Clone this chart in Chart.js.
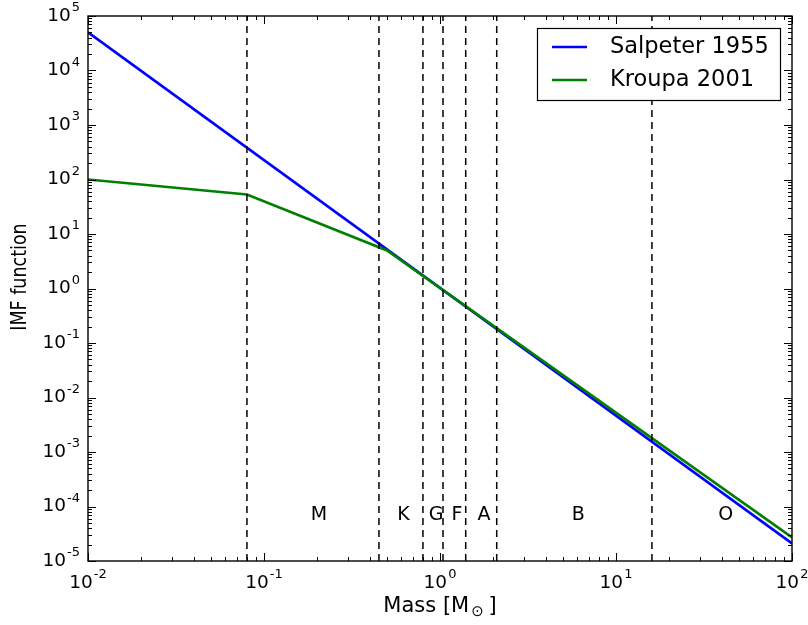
<!DOCTYPE html>
<html><head><meta charset="utf-8">
<script src="https://cdn.jsdelivr.net/npm/chart.js@4/dist/chart.umd.min.js"></script>
<style>html,body{margin:0;padding:0;background:#fff}canvas{display:block}</style>
</head><body>
<canvas id="c" width="808" height="625"></canvas>
<script>
// ---- data ----
const salpeterMass = [0.01, 100];
const salpeterIMF  = [5.0e4, 2.1e-5];
const kroupaMass   = [0.01, 0.08, 0.5, 100];
const kroupaIMF    = [100, 53, 5.0, 2.7e-5];
const classBoundaries = [0.08, 0.45, 0.8, 1.04, 1.4, 2.1, 16];
const classNames      = ['M', 'K', 'G', 'F', 'A', 'B', 'O'];
const classLabelMass  = [0.205, 0.62, 0.95, 1.25, 1.78, 6.1, 42];
const classLabelIMF   = 7e-5;
const xTickExps = [-2, -1, 0, 1, 2];
const yTickExps = [-5, -4, -3, -2, -1, 0, 1, 2, 3, 4, 5];
const seriesLabels = ['Salpeter 1955', 'Kroupa 2001'];
const xTitle = 'Mass [M';
const xTitleSub = '\u2299';
const yTitle = 'IMF function';

const FONT = '"DejaVu Sans", sans-serif';
const toPts = (xs, ys) => xs.map((x, i) => ({x: x, y: ys[i]}));

const datasets = [];
classBoundaries.forEach(b => datasets.push({
  data: [{x: b, y: 1e-5}, {x: b, y: 1e5}],
  borderColor: '#000', borderWidth: 1.5, borderDash: [7, 5],
  pointRadius: 0, order: 0, isGuide: true
}));
datasets.push({label: seriesLabels[1], data: toPts(kroupaMass, kroupaIMF),
  borderColor: '#008000', borderWidth: 2.7, pointRadius: 0, order: 1});
datasets.push({label: seriesLabels[0], data: toPts(salpeterMass, salpeterIMF),
  borderColor: '#0000ff', borderWidth: 2.7, pointRadius: 0, order: 2});

function drawPow(ctx, base, exp, x, y, align, size) {
  ctx.font = size + 'px ' + FONT;
  const bw = ctx.measureText(base).width;
  const ss = Math.round(size * 0.72);
  ctx.font = ss + 'px ' + FONT;
  const ew = ctx.measureText(exp).width;
  const total = bw + ew + 1;
  let x0 = align === 'center' ? x - total / 2 : (align === 'right' ? x - total : x);
  ctx.textAlign = 'left';
  ctx.textBaseline = 'middle';
  ctx.font = size + 'px ' + FONT;
  ctx.fillText(base, x0, y);
  ctx.font = ss + 'px ' + FONT;
  ctx.fillText(exp, x0 + bw + 1, y - size * 0.45);
}

const decor = {
  id: 'decor',
  afterDatasetsDraw(chart) {
    const ctx = chart.ctx, a = chart.chartArea;
    const xs = chart.scales.x, ys = chart.scales.y;
    ctx.save();
    // class labels
    ctx.fillStyle = '#000';
    ctx.font = '19px ' + FONT;
    ctx.textAlign = 'center'; ctx.textBaseline = 'middle';
    classNames.forEach((n, i) => ctx.fillText(n, xs.getPixelForValue(classLabelMass[i]), ys.getPixelForValue(classLabelIMF)));
    // frame
    ctx.strokeStyle = '#000'; ctx.lineWidth = 1.4;
    ctx.strokeRect(a.left, a.top, a.right - a.left, a.bottom - a.top);
    // ticks
    ctx.lineWidth = 1;
    ctx.beginPath();
    const MAJ = 8, MIN = 4;
    xTickExps.forEach((e, k) => {
      const px = Math.round(xs.getPixelForValue(Math.pow(10, e))) + 0.5;
      ctx.moveTo(px, a.bottom); ctx.lineTo(px, a.bottom - MAJ);
      ctx.moveTo(px, a.top); ctx.lineTo(px, a.top + MAJ);
      if (k < xTickExps.length - 1) for (let m = 2; m <= 9; m++) {
        const p = Math.round(xs.getPixelForValue(m * Math.pow(10, e))) + 0.5;
        ctx.moveTo(p, a.bottom); ctx.lineTo(p, a.bottom - MIN);
        ctx.moveTo(p, a.top); ctx.lineTo(p, a.top + MIN);
      }
    });
    yTickExps.forEach((e, k) => {
      const py = Math.round(ys.getPixelForValue(Math.pow(10, e))) + 0.5;
      ctx.moveTo(a.left, py); ctx.lineTo(a.left + MAJ, py);
      ctx.moveTo(a.right, py); ctx.lineTo(a.right - MAJ, py);
      if (k < yTickExps.length - 1) for (let m = 2; m <= 9; m++) {
        const p = Math.round(ys.getPixelForValue(m * Math.pow(10, e))) + 0.5;
        ctx.moveTo(a.left, p); ctx.lineTo(a.left + MIN, p);
        ctx.moveTo(a.right, p); ctx.lineTo(a.right - MIN, p);
      }
    });
    ctx.stroke();
    // tick labels
    ctx.fillStyle = '#000';
    xTickExps.forEach(e => drawPow(ctx, '10', String(e), xs.getPixelForValue(Math.pow(10, e)), a.bottom + 22, 'center', 18.5));
    yTickExps.forEach(e => drawPow(ctx, '10', String(e), a.left - 8, ys.getPixelForValue(Math.pow(10, e)), 'right', 18.5));
    // axis titles
    const TS = 21, SS = 15;
    ctx.font = TS + 'px ' + FONT;
    const tw = ctx.measureText(xTitle).width;
    ctx.font = SS + 'px ' + FONT;
    const sw = ctx.measureText(xTitleSub).width;
    ctx.font = TS + 'px ' + FONT;
    const cw = ctx.measureText(' ]').width;
    const cx = (a.left + a.right) / 2;
    let x0 = cx - (tw + sw + cw) / 2;
    const ty = 607;
    ctx.textAlign = 'left'; ctx.textBaseline = 'middle';
    ctx.fillText(xTitle, x0, ty);
    ctx.font = SS + 'px ' + FONT;
    ctx.fillText(xTitleSub, x0 + tw + 2, ty + 5);
    ctx.font = TS + 'px ' + FONT;
    ctx.fillText(' ]', x0 + tw + sw, ty);
    ctx.save();
    ctx.translate(21, 277);
    ctx.rotate(-Math.PI / 2);
    ctx.scale(1, 1.2);
    ctx.textAlign = 'center'; ctx.textBaseline = 'middle';
    ctx.font = '17.5px ' + FONT;
    ctx.fillText(yTitle, 0, 0);
    ctx.restore();
    // legend
    const lx = 537, ly = 28, lw = 243, lh = 72;
    ctx.fillStyle = '#fff';
    ctx.fillRect(lx, ly, lw, lh);
    ctx.strokeStyle = '#000'; ctx.lineWidth = 1.2;
    ctx.strokeRect(lx + 0.5, ly + 0.5, lw, lh);
    const entries = chart.data.datasets.filter(d => !d.isGuide).sort((p, q) => seriesLabels.indexOf(p.label) - seriesLabels.indexOf(q.label));
    entries.forEach((d, i) => {
      const yy = ly + 19 + i * 33;
      ctx.strokeStyle = d.borderColor; ctx.lineWidth = 2.7;
      ctx.beginPath(); ctx.moveTo(552, yy); ctx.lineTo(587, yy); ctx.stroke();
      ctx.fillStyle = '#000';
      ctx.font = '22.5px ' + FONT;
      ctx.textAlign = 'left'; ctx.textBaseline = 'middle';
      ctx.fillText(d.label, 610, yy);
    });
    ctx.restore();
  }
};

new Chart(document.getElementById('c'), {
  type: 'line',
  data: {datasets: datasets},
  options: {
    responsive: false, animation: false,
    layout: {padding: {left: 88, right: 16, top: 16, bottom: 64}},
    plugins: {legend: {display: false}, tooltip: {enabled: false}},
    elements: {line: {tension: 0}},
    scales: {
      x: {type: 'logarithmic', min: 1e-2, max: 1e2, display: false},
      y: {type: 'logarithmic', min: 1e-5, max: 1e5, display: false}
    }
  },
  plugins: [decor]
});
</script>
</body></html>
